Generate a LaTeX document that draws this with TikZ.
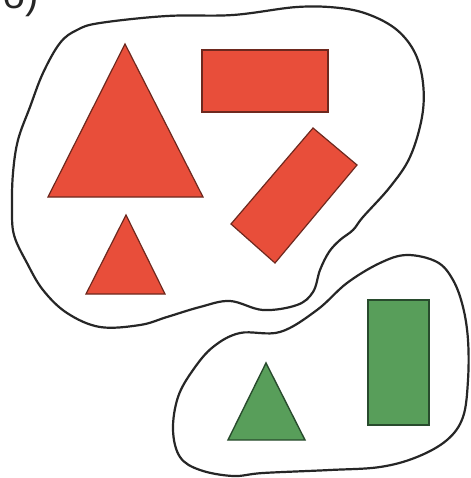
\documentclass[tikz,border=0pt]{standalone}
\usepackage{fontspec}
\setmainfont{Liberation Sans}
\begin{document}
\begin{tikzpicture}[x=1pt,y=-1pt,
  redshape/.style={fill=redfill,draw=redline,line width=1.2pt,line join=miter},
  greenshape/.style={fill=greenfill,draw=greenline,line width=1.4pt,line join=miter},
  blob/.style={draw=black!85,line width=2.2pt,line join=round}]
\definecolor{redfill}{RGB}{232,78,58}
\definecolor{redline}{RGB}{110,40,30}
\definecolor{greenfill}{RGB}{88,158,90}
\definecolor{greenline}{RGB}{40,75,45}
\useasboundingbox[fill=white] (0,0) rectangle (470,478);
% label, mostly cut off at the top
\node[anchor=base west,inner sep=0pt,font=\fontsize{40}{40}\selectfont,text=black!85] (lbl) at (2,9) {б)};
% red set outline
\draw[blob] plot[smooth cycle,tension=0.6] coordinates {
 (233,15) (297,7) (340,8) (370,15) (397,30) (415,53) (423,83) (422,117)
 (410,157) (390,187) (363,217) (353,230) (340,240) (329,252) (320,270)
 (313,292) (297,305) (263,310) (230,301) (200,307) (167,317) (140,325)
 (100,327) (67,313) (43,290) (27,263) (14,235) (12,207) (13,173) (18,140)
 (30,107) (43,73) (60,43) (77,30) (100,23) (167,16)};
% green set outline
\draw[blob] plot[smooth cycle,tension=0.6] coordinates {
 (240,333) (280,332) (317,310) (347,283) (380,263) (407,255) (437,262)
 (453,280) (463,307) (468,340) (468,380) (463,417) (447,440) (417,457)
 (380,467) (330,470) (263,473) (233,476) (200,470) (180,457) (173,430)
 (178,397) (193,370) (213,347)};
% red shapes
\draw[redshape] (125,44) -- (203,197) -- (48,197) -- cycle;
\draw[redshape] (202,50) rectangle (328,112);
\draw[redshape] (313,128) -- (357,165) -- (275,263) -- (231,224) -- cycle;
\draw[redshape] (126,215) -- (165,294) -- (86,294) -- cycle;
% green shapes
\draw[greenshape] (368,300) rectangle (429,425);
\draw[greenshape] (266,363) -- (305,440) -- (228,440) -- cycle;
\end{tikzpicture}
\end{document}
